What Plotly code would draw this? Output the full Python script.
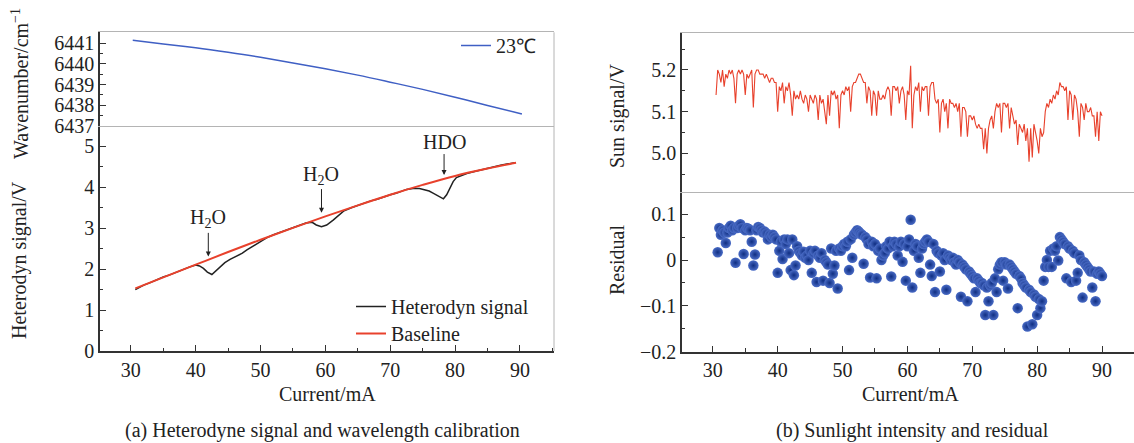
import plotly.graph_objects as go

# ---------------- data ----------------
# (a) wavenumber calibration at 23 C
wn_current = [30.3, 35, 40, 45, 50, 55, 60, 65, 70, 75, 80, 85, 90.3]
wn_value = [6441.14, 6440.97, 6440.78, 6440.56, 6440.32, 6440.05, 6439.77,
            6439.46, 6439.12, 6438.77, 6438.39, 6437.99, 6437.58]

# (a) heterodyne signal
sig_current = [30.7, 32, 33, 34, 35, 36, 37, 38, 39, 40, 40.6, 41.2, 41.8, 42.5, 43.2,
               43.8, 44.5, 45.3, 46.3, 47.2, 47.9, 48.9, 50, 51, 52, 53, 54, 55, 56, 57,
               57.9, 58.6, 59.4, 60.2, 61.2, 62, 62.8, 64, 65, 66, 67, 68, 69, 70, 71, 72,
               72.5, 73.5, 74.5, 75.1, 76, 76.6, 77.3, 78.2, 78.7, 79.2, 79.7, 80.2, 81,
               81.8, 83, 84, 85, 86, 87, 88, 89.2]
sig_value = [1.50, 1.61, 1.67, 1.75, 1.81, 1.86, 1.93, 1.98, 2.05, 2.10, 2.08, 2.02, 1.93,
             1.87, 1.97, 2.08, 2.16, 2.24, 2.31, 2.39, 2.47, 2.57, 2.69, 2.77, 2.84, 2.90,
             2.96, 3.01, 3.07, 3.13, 3.15, 3.08, 3.04, 3.08, 3.20, 3.32, 3.42, 3.50, 3.56,
             3.61, 3.67, 3.71, 3.77, 3.82, 3.86, 3.92, 3.95, 3.97, 3.97, 3.95, 3.91, 3.86,
             3.80, 3.72, 3.82, 4.00, 4.14, 4.24, 4.30, 4.34, 4.39, 4.43, 4.47, 4.50, 4.54,
             4.57, 4.60]

# (a) baseline
base_current = [30.7, 35, 40, 45, 50, 55, 60, 65, 70, 75, 80, 85, 89.4]
base_value = [1.53, 1.80, 2.11, 2.42, 2.72, 3.01, 3.29, 3.56, 3.82, 4.06, 4.28, 4.46, 4.60]

# (b) sun signal, sampled every 0.25 mA from 30.5 mA
sun_start, sun_step = 30.5, 0.25
sun_value = [
    5.14, 5.20,
    5.19, 5.17, 5.20, 5.16,  5.19, 5.18, 5.20, 5.19,  5.20, 5.18, 5.12, 5.19,
    5.20, 5.19, 5.20, 5.19,  5.14, 5.19, 5.18, 5.19,  5.20, 5.11, 5.19, 5.20,
    5.20, 5.19, 5.19, 5.19,  5.18, 5.19, 5.18, 5.17,  5.18, 5.18, 5.17, 5.17,
    5.10, 5.16, 5.15, 5.17,  5.12, 5.16, 5.15, 5.17,  5.14, 5.09, 5.15, 5.13,
    5.14, 5.13, 5.15, 5.13,  5.12, 5.14, 5.13, 5.10,  5.14, 5.13, 5.12, 5.14,
    5.13, 5.08, 5.14, 5.12,  5.13, 5.10, 5.07, 5.14,  5.09, 5.15, 5.14, 5.15,
    5.13, 5.14, 5.06, 5.14,  5.15, 5.14, 5.16, 5.15,  5.16, 5.10, 5.16, 5.17,
    5.17, 5.18, 5.19, 5.19,  5.18, 5.17, 5.17, 5.12,  5.16, 5.15, 5.09, 5.15,
    5.14, 5.09, 5.15, 5.13,  5.13, 5.14, 5.13, 5.15,  5.16, 5.15, 5.09, 5.16,
    5.16, 5.15, 5.16, 5.12,  5.15, 5.16, 5.14, 5.08,  5.15, 5.14, 5.21, 5.06,
    5.14, 5.16, 5.15, 5.17,  5.10, 5.16, 5.15, 5.16,  5.16, 5.09, 5.16, 5.17,
    5.17, 5.13, 5.12, 5.13,  5.05, 5.12, 5.13, 5.10,  5.12, 5.06, 5.13, 5.12,
    5.12, 5.11, 5.12, 5.10,  5.12, 5.04, 5.11, 5.11,  5.10, 5.04, 5.09, 5.09,
    5.08, 5.09, 5.07, 5.06,  5.07, 5.06, 5.06, 5.01,  5.06, 5.00, 5.06, 5.08,
    5.09, 5.06, 5.10, 5.12,  5.11, 5.12, 5.05, 5.12,  5.12, 5.11, 5.12, 5.06,
    5.11, 5.09, 5.07, 5.08,  5.02, 5.07, 5.06, 5.05,  5.07, 5.03, 5.06, 4.98,
    5.06, 4.99, 5.07, 5.05,  5.03, 5.00, 5.06, 5.04,  5.05, 5.10, 5.12, 5.11,
    5.13, 5.12, 5.14, 5.13,  5.15, 5.14, 5.17, 5.16,  5.16, 5.15, 5.16, 5.08,
    5.15, 5.14, 5.08, 5.14,  5.13, 5.10, 5.04, 5.12,  5.11, 5.08, 5.12, 5.10,
    5.10, 5.11, 5.09, 5.09,  5.04, 5.10, 5.03, 5.10,
    5.09]
sun_current = [round(sun_start + sun_step * i, 2) for i in range(len(sun_value))]

# (b) residual, sampled every 0.25 mA from 30.75 mA
res_start, res_step = 30.75, 0.25
res_value = [
    0.017,
    0.070, 0.055, 0.065, 0.060,  0.037, 0.060, 0.070, 0.075,  0.065, 0.070, -0.006, 0.070,
    0.075, 0.078, 0.070, 0.013,  0.065, 0.070, 0.068, 0.065,  0.040, -0.012, 0.012, 0.065,
    0.072, 0.070, 0.065, 0.060,  0.062, 0.058, 0.045, 0.055,  0.050, 0.055, 0.050, 0.045,
    -0.028, 0.020, 0.040, 0.002,  0.045, 0.035, 0.045, 0.015,  -0.022, 0.045, -0.033, -0.012,
    0.030, 0.020, 0.015, 0.010,  0.018, 0.005, 0.010, 0.000,  0.020, -0.028, 0.015, 0.020,
    -0.048, 0.010, 0.005, 0.015,  -0.045, 0.000, -0.005, -0.010,  -0.050, 0.025, -0.030, -0.012,
    0.020, -0.062, 0.025, 0.020,  0.030, 0.035, 0.030, 0.040,  -0.022, 0.045, 0.005, 0.055,
    0.060, 0.065, 0.062, 0.058,  0.055, -0.008, 0.050, 0.045,  0.035, -0.038, 0.040, 0.030,
    0.035, -0.040, 0.020, 0.025,  0.000, 0.010, 0.015, 0.030,  0.025, 0.040, -0.036, 0.030,
    0.040, 0.035, 0.010, 0.030,  0.040, -0.004, 0.035, -0.045,  0.030, 0.045, 0.088, -0.060,
    0.020, 0.035, 0.030, 0.005,  -0.028, 0.025, 0.035, 0.040,  0.045, 0.040, -0.010, -0.035,
    0.035, -0.070, 0.020, 0.015,  -0.025, 0.010, 0.015, 0.000,  -0.065, 0.010, 0.005, 0.000,
    0.005, -0.005, -0.010, 0.000,  -0.005, -0.080, -0.010, -0.015,  -0.020, -0.090, -0.025, -0.030,
    -0.035, -0.040, -0.070, -0.040,  -0.045, -0.050, -0.050, -0.055,  -0.120, -0.060, -0.090, -0.055,
    -0.050, -0.120, -0.040, -0.070,  -0.020, -0.010, -0.005, -0.045,  -0.005, -0.010, -0.062, -0.010,
    -0.015, -0.020, -0.025, -0.030,  -0.105, -0.035, -0.040, -0.050,  -0.055, -0.060, -0.145, -0.065,
    -0.070, -0.140, -0.075, -0.080,  -0.120, -0.085, -0.105, -0.090,  -0.045, -0.015, 0.000, -0.015,
    0.020, -0.015, 0.025, 0.020,  0.030, -0.001, 0.050, 0.045,  0.040, 0.035, -0.040, 0.030,
    0.025, -0.048, 0.020, 0.015,  -0.045, -0.028, 0.010, 0.000,  -0.082, -0.005, -0.010, -0.015,
    -0.020, -0.025, -0.060, -0.025,  -0.090, -0.030, -0.025, -0.030,
    -0.035]
res_current = [round(res_start + res_step * i, 2) for i in range(len(res_value))]

# ---------------- style ----------------
W, H = 1134, 443
FONT = "Liberation Serif"
TXT = "#222222"
DARK = "#333333"
GREY = "#b4b4b4"
FS = 20

def px(x):
    return x / W

def py(y):
    return (H - y) / H

xl = [px(100), px(554)]
xr = [px(682), 1.0]
yl_top = [py(126), py(32.3)]
yl_bot = [py(351), py(126)]
yr_top = [py(191.7), py(33.3)]
yr_bot = [py(351.7), py(191.7)]

tickfont = dict(family=FONT, size=FS, color=TXT)

def xaxis_bottom(domain, anchor, rng):
    return dict(domain=domain, anchor=anchor, range=rng, showline=True, linecolor=DARK,
                linewidth=1.5, ticks="inside", ticklen=6, tickwidth=1.2, tickcolor=DARK,
                tick0=30, dtick=10, tickfont=tickfont, showgrid=False, zeroline=False,
                mirror=False, automargin=False,
                minor=dict(ticks="inside", ticklen=3.5, tickwidth=1, tickcolor=DARK, dtick=5,
                           showgrid=False))

def xaxis_top(domain, anchor, match):
    return dict(domain=domain, anchor=anchor, matches=match, showline=True, linecolor=GREY,
                linewidth=1, mirror=True, ticks="", showticklabels=False, showgrid=False,
                zeroline=False, automargin=False)

def yaxis(domain, anchor, rng, dtick, tick0, minor_dtick, fmt=None):
    d = dict(domain=domain, anchor=anchor, range=rng, showline=True, linecolor=DARK,
             linewidth=1.5, ticks="inside", ticklen=6, tickwidth=1.2, tickcolor=DARK,
             dtick=dtick, tick0=tick0, tickfont=tickfont, showgrid=False, zeroline=False,
             automargin=False,
             minor=dict(ticks="inside", ticklen=3.5, tickwidth=1, tickcolor=DARK,
                        dtick=minor_dtick, showgrid=False))
    if fmt:
        d["tickformat"] = fmt
    return d

fig = go.Figure()

fig.add_trace(go.Scatter(x=wn_current, y=wn_value, mode="lines", name="23\u2103",
                         line=dict(color="#3f5fc4", width=1.5, shape="spline"),
                         xaxis="x2", yaxis="y2", legend="legend"))
fig.add_trace(go.Scatter(x=sig_current, y=sig_value, mode="lines", name="Heterodyn signal",
                         line=dict(color="#222222", width=1.5),
                         xaxis="x", yaxis="y", legend="legend2"))
fig.add_trace(go.Scatter(x=base_current, y=base_value, mode="lines", name="Baseline",
                         line=dict(color="#e8412c", width=2, shape="spline"),
                         xaxis="x", yaxis="y", legend="legend3"))
fig.add_trace(go.Scatter(x=sun_current, y=sun_value, mode="lines", showlegend=False,
                         line=dict(color="#e8412c", width=1.1),
                         xaxis="x4", yaxis="y4"))
fig.add_trace(go.Scatter(x=res_current, y=res_value, mode="markers", showlegend=False,
                         marker=dict(size=10.5, color="#4a6cc6",
                                     gradient=dict(type="radial", color="#0f2e82"),
                                     line=dict(width=0)),
                         xaxis="x3", yaxis="y3"))

annotations = []

def rot_label(text, x, y):
    annotations.append(dict(text=text, x=px(x), y=py(y), xref="paper", yref="paper",
                            textangle=-90, showarrow=False, xanchor="center",
                            yanchor="middle", font=dict(family=FONT, size=FS, color=TXT)))

def label(text, x, y):
    annotations.append(dict(text=text, x=px(x), y=py(y), xref="paper", yref="paper",
                            showarrow=False, xanchor="center", yanchor="middle",
                            font=dict(family=FONT, size=FS, color=TXT)))

rot_label("Heterodyn signal/V", 20, 260)
rot_label("Wavenumber/cm<sup>\u22121</sup>", 20, 84)
rot_label("Sun signal/V", 617, 116)
rot_label("Residual", 617, 260)
label("Current/mA", 327, 394)
label("Current/mA", 910, 394)
label("(a) Heterodyne signal and wavelength calibration", 322, 430)
label("(b) Sunlight intensity and residual", 912, 430)

peaks = [("H<sub>2</sub>O", 41.95, 2.31, 3.23),
         ("H<sub>2</sub>O", 59.4, 3.38, 4.30),
         ("HDO", 78.3, 4.30, 5.12)]
for txt, xc, tip, lab in peaks:
    annotations.append(dict(text=txt, x=xc, y=tip, ax=xc, ay=lab, xref="x", yref="y",
                            axref="x", ayref="y", showarrow=True, arrowhead=2,
                            arrowsize=1, arrowwidth=1, arrowcolor="#222222",
                            font=dict(family=FONT, size=FS, color=TXT)))

legend_font = dict(family=FONT, size=FS, color=TXT)

fig.update_layout(
    width=W, height=H, margin=dict(l=0, r=0, t=0, b=0, autoexpand=False), autosize=False,
    paper_bgcolor="white", plot_bgcolor="white",
    font=dict(family=FONT, size=FS, color=TXT),
    xaxis=xaxis_bottom(xl, "y", [25.25, 95.25]),
    yaxis=yaxis(yl_bot, "x", [0, 5.5], 1, 0, 0.5),
    xaxis2=xaxis_top(xl, "y2", "x"),
    yaxis2=yaxis(yl_top, "x2", [6437, 6441.53], 1, 6437, 0.5),
    xaxis3=xaxis_bottom(xr, "y3", [25.25, 94.93]),
    yaxis3=yaxis(yr_bot, "x3", [-0.2, 0.149], 0.1, 0, 0.05),
    xaxis4=xaxis_top(xr, "y4", "x3"),
    yaxis4=yaxis(yr_top, "x4", [4.908, 5.288], 0.1, 5.0, 0.05, ".1f"),
    legend=dict(x=px(456), y=py(26), xanchor="left", yanchor="top",
                bgcolor="rgba(0,0,0,0)", font=legend_font),
    legend2=dict(x=px(351), y=py(287), xanchor="left", yanchor="top",
                 bgcolor="rgba(0,0,0,0)", font=legend_font),
    legend3=dict(x=px(351), y=py(314), xanchor="left", yanchor="top",
                 bgcolor="rgba(0,0,0,0)", font=legend_font),
    annotations=annotations,
    shapes=[dict(type="line", xref="paper", yref="paper", x0=px(554), x1=px(554),
                 y0=py(351), y1=py(32.3), line=dict(color=GREY, width=1))],
)

page_fix = (
    "var s=document.documentElement.style;s.margin='0';s.padding='0';"
    "s.height='443px';s.overflow='hidden';"
    "var b=document.body.style;b.margin='0';b.padding='0';"
    "b.height='443px';b.overflow='hidden';"
)

fig.write_html("out.html",
               config={"responsive": False, "displayModeBar": False},
               post_script=page_fix)
